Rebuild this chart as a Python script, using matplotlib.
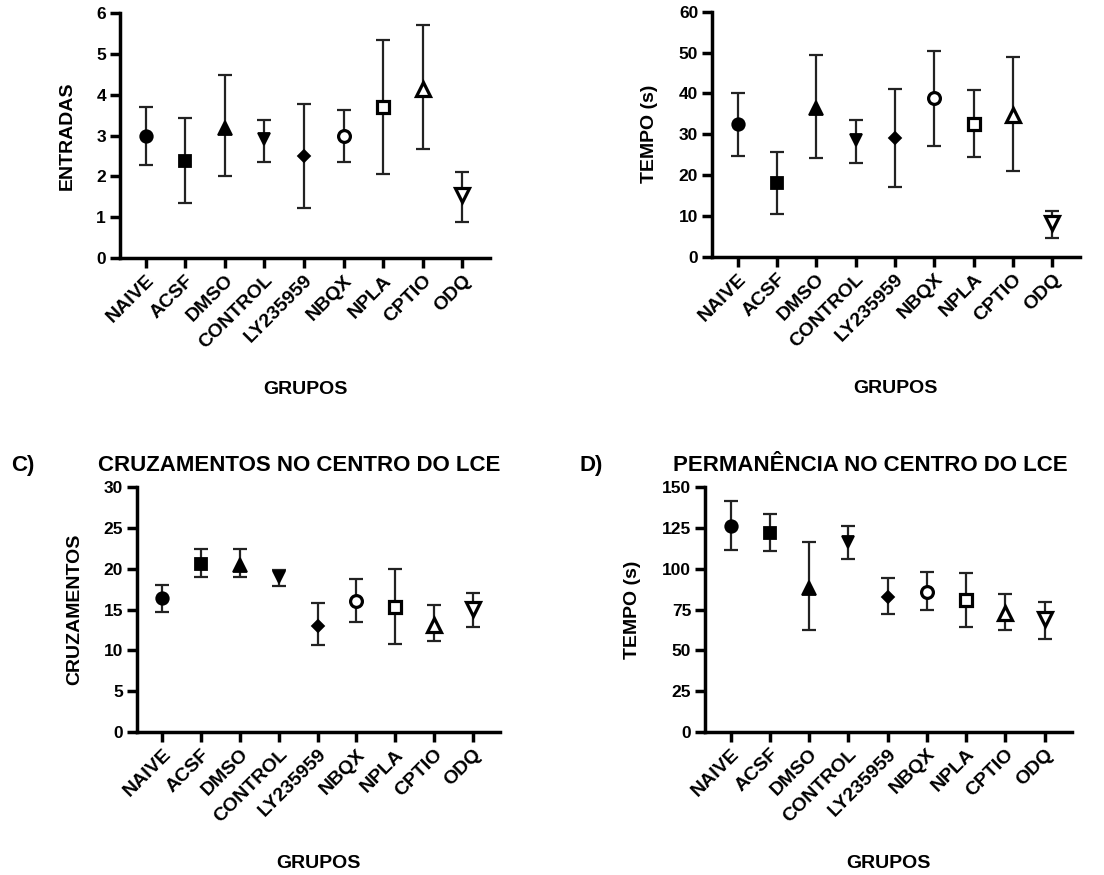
import numpy as np
import matplotlib.pyplot as plt

plt.rcParams['font.family'] = ['Liberation Sans', 'DejaVu Sans']
plt.rcParams['font.weight'] = 'bold'

grupos = ['NAIVE', 'ACSF', 'DMSO', 'CONTROL', 'LY235959', 'NBQX', 'NPLA', 'CPTIO', 'ODQ']

# A) entradas
entradas_media = [2.98, 2.38, 3.18, 2.91, 2.49, 2.98, 3.71, 4.14, 1.55]
entradas_inf = [2.27, 1.36, 2.00, 2.34, 1.22, 2.34, 2.07, 2.68, 0.89]
entradas_sup = [3.70, 3.43, 4.49, 3.37, 3.77, 3.62, 5.35, 5.71, 2.11]

# B) tempo
tempo_media = [32.4, 18.0, 36.5, 28.6, 29.1, 38.9, 32.4, 34.7, 8.3]
tempo_inf = [24.7, 10.5, 24.3, 23.0, 17.1, 27.2, 24.4, 21.0, 4.6]
tempo_sup = [40.2, 25.6, 49.4, 33.5, 41.1, 50.4, 40.8, 49.0, 11.3]

# C) cruzamentos
cruz_media = [16.4, 20.6, 20.4, 19.0, 13.0, 16.0, 15.3, 13.1, 15.1]
cruz_inf = [14.7, 19.0, 19.0, 17.9, 10.7, 13.5, 10.8, 11.2, 12.8]
cruz_sup = [18.0, 22.4, 22.4, 19.9, 15.8, 18.7, 20.0, 15.5, 17.0]

# D) permanencia
perm_media = [126.3, 121.8, 88.0, 116.6, 82.5, 85.9, 80.8, 73.1, 69.2]
perm_inf = [111.5, 110.9, 62.4, 105.8, 72.0, 74.7, 64.5, 62.4, 56.7]
perm_sup = [141.8, 133.6, 116.6, 126.3, 94.1, 98.2, 97.2, 84.5, 79.4]

marcadores = ['o', 's', '^', 'v', 'D', 'o', 's', '^', 'v']
cheio = [True, True, True, True, True, False, False, False, False]
tamanhos = [9, 8.5, 9.5, 9, 6, 8.5, 8.5, 9.5, 9.5]

fig = plt.figure(figsize=(11.04, 8.75), dpi=100)

def painel(pos, media, inf, sup, ylim, yticks, ylabel):
    ax = fig.add_axes(pos)
    x = np.arange(len(grupos))
    for i in x:
        err = [[media[i] - inf[i]], [sup[i] - media[i]]]
        ax.errorbar(i, media[i], yerr=err, fmt='none', ecolor='#222222',
                    elinewidth=1.6, capsize=5, capthick=1.6, zorder=2)
        ax.plot(i, media[i], marker=marcadores[i], ms=tamanhos[i],
                mfc='black' if cheio[i] else 'white', mec='black',
                mew=1.3 if cheio[i] else 2.3, ls='none', zorder=3)
    ax.set_xlim(-0.65, 8.7)
    ax.set_ylim(ylim)
    ax.set_yticks(yticks)
    ax.set_xticks(x)
    ax.set_xticklabels(grupos, rotation=45, ha='right', rotation_mode='anchor',
                       fontsize=14, fontweight='bold')
    for lab in ax.get_yticklabels():
        lab.set_fontsize(12.5)
        lab.set_fontweight('bold')
    ax.spines['top'].set_visible(False)
    ax.spines['right'].set_visible(False)
    ax.spines['left'].set_linewidth(2.5)
    ax.spines['bottom'].set_linewidth(2.5)
    ax.tick_params(axis='both', direction='out', length=7, width=2.5, pad=3)
    ax.set_ylabel(ylabel, fontsize=14, fontweight='bold', labelpad=15)
    ax.set_xlabel('GRUPOS', fontsize=14, fontweight='bold', labelpad=21)
    return ax

painel([0.1087, 0.7051, 0.3351, 0.28], entradas_media, entradas_inf, entradas_sup,
       (0, 6), range(0, 7), 'ENTRADAS')
painel([0.645, 0.7066, 0.333, 0.28], tempo_media, tempo_inf, tempo_sup,
       (0, 60), range(0, 61, 10), 'TEMPO (s)')
painel([0.1241, 0.1634, 0.3288, 0.28], cruz_media, cruz_inf, cruz_sup,
       (0, 30), range(0, 31, 5), 'CRUZAMENTOS')
painel([0.6386, 0.1638, 0.3324, 0.2792], perm_media, perm_inf, perm_sup,
       (0, 150), range(0, 151, 25), 'TEMPO (s)')

fig.text(0.01, 0.468, 'C)', fontsize=16, fontweight='bold', va='center')
fig.text(0.271, 0.468, 'CRUZAMENTOS NO CENTRO DO LCE', fontsize=16,
         fontweight='bold', va='center', ha='center')
fig.text(0.525, 0.468, 'D)', fontsize=16, fontweight='bold', va='center')
fig.text(0.788, 0.468, 'PERMANÊNCIA NO CENTRO DO LCE', fontsize=16,
         fontweight='bold', va='center', ha='center')

fig.savefig('out.png', dpi=100)
